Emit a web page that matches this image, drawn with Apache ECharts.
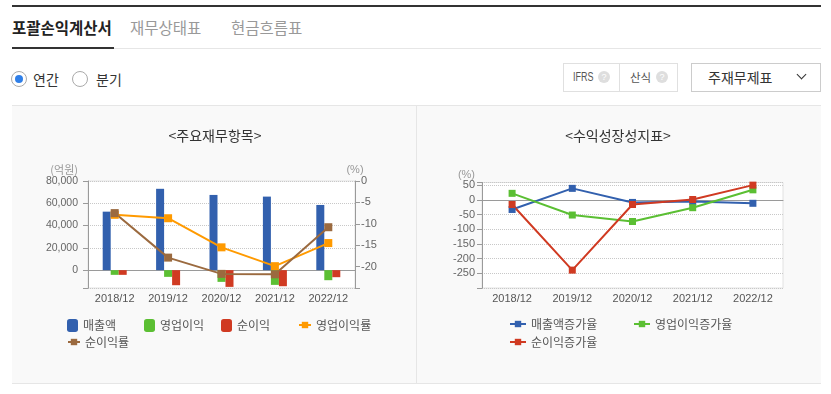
<!DOCTYPE html>
<html>
<head>
<meta charset="utf-8">
<script src="https://cdn.jsdelivr.net/npm/echarts@6/dist/echarts.min.js"></script>
<style>
html,body{margin:0;padding:0;background:#fff;}
body{width:831px;height:394px;position:relative;overflow:hidden;font-family:"Noto Sans CJK KR","Noto Sans",sans-serif;}
.abs{position:absolute;}
.tab{top:16px;height:22px;line-height:22px;font-size:15.5px;white-space:nowrap;}
.radio{width:14px;height:14px;border:1px solid #aaa;border-radius:50%;background:#fff;top:71px;}
.rtxt{top:69px;height:20px;line-height:20px;font-size:14px;color:#333;}
.q{width:12px;height:12px;border-radius:50%;background:#dedede;color:#fff;font-size:9px;line-height:12px;text-align:center;top:71px;font-family:"Liberation Sans",sans-serif;}
.btxt{top:68px;height:18px;line-height:18px;font-size:12px;color:#555;}
</style>
</head>
<body>
<div class="abs" style="left:12px;top:5px;width:809px;height:2px;background:#333"></div>
<div class="abs tab" style="left:12px;color:#222;font-weight:600">포괄손익계산서</div>
<div class="abs tab" style="left:130px;color:#999">재무상태표</div>
<div class="abs tab" style="left:231px;color:#999">현금흐름표</div>
<div class="abs" style="left:12px;top:48px;width:809px;height:1px;background:#e6e6e6"></div>
<div class="abs" style="left:12px;top:47px;width:102px;height:2px;background:#333"></div>

<div class="abs radio" style="left:11px;"></div>
<div class="abs" style="left:15px;top:75px;width:8px;height:8px;border-radius:50%;background:#2f7fe8"></div>
<div class="abs rtxt" style="left:33px;">연간</div>
<div class="abs radio" style="left:72px;"></div>
<div class="abs rtxt" style="left:96px;">분기</div>

<div class="abs" style="left:563px;top:63px;width:113px;height:27px;border:1px solid #e0e0e0;background:#fff"></div>
<div class="abs" style="left:619px;top:64px;width:1px;height:27px;background:#e0e0e0"></div>
<div class="abs btxt" style="left:573px;font-size:12.5px;font-family:'Liberation Sans',sans-serif;transform:scaleX(0.72);transform-origin:left center;">IFRS</div>
<div class="abs q" style="left:598px;">?</div>
<div class="abs btxt" style="left:630px;font-size:11.5px;">산식</div>
<div class="abs q" style="left:656px;">?</div>
<div class="abs" style="left:691px;top:63px;width:128px;height:27px;border:1px solid #ccc;background:#fff"></div>
<div class="abs" style="left:708px;top:66px;height:22px;line-height:22px;font-size:14px;color:#333">주재무제표</div>
<div class="abs" style="left:798px;top:71px;width:6px;height:6px;border-right:1px solid #333;border-bottom:1px solid #333;transform:rotate(45deg)"></div>

<div class="abs" style="left:12px;top:105px;width:809px;height:277px;background:#f9f9f9;border-top:1px solid #e6e6e6;border-bottom:1px solid #e6e6e6"></div>
<div class="abs" style="left:416px;top:106px;width:1px;height:277px;background:#e6e6e6"></div>

<div id="chart" class="abs" style="left:0;top:0;width:831px;height:394px;"></div>

<script>
const categories = ['2018/12', '2019/12', '2020/12', '2021/12', '2022/12'];
// 주요재무항목 (억원)
const revenue = [52500, 73000, 67500, 66000, 58500];
const operatingIncome = [-4200, -6000, -10500, -13200, -9000];
const netIncome = [-4200, -13500, -15000, -14400, -6300];
// (%)
const operatingMargin = [-7.9, -8.7, -15.5, -19.9, -14.5];
const netMargin = [-7.5, -17.9, -21.7, -21.8, -10.8];
// 수익성장성지표 (%)
const revenueGrowth = [-32, 40, -8, -5, -11];
const operatingGrowth = [23, -51, -73, -26, 35];
const netGrowth = [-15, -239, -15, 2, 51];

const leftTicks = [0, 20000, 40000, 60000, 80000];
const marginTicks = [0, -5, -10, -15, -20];
const growthTicks = [50, 0, -50, -100, -150, -200, -250];

const FONT = '"Noto Sans CJK KR","Noto Sans",sans-serif';
const NUMFONT = '"Liberation Sans Narrow","Liberation Sans",sans-serif';
const C = {
  blue: '#3260ae', green: '#5bbf33', red: '#d03a22', orange: '#ff9a00', brown: '#9b6a3f'
};
const axisLineGray = '#9a9a9a';

const chart = echarts.init(document.getElementById('chart'), null, {renderer: 'canvas'});

function xAxisOf(grid) {
  return {
    type: 'category', gridIndex: grid, data: categories,
    axisLine: {lineStyle: {color: axisLineGray}},
    axisTick: {alignWithLabel: true, length: 5, lineStyle: {color: axisLineGray}},
    axisLabel: {margin: 5, fontSize: 11, color: '#555', fontFamily: NUMFONT},
    splitLine: {show: false}
  };
}

const legendText = {fontSize: 12, color: '#555', fontFamily: FONT};
function lg(name, left, top, w, h) {
  return {data: [name], left: left, top: top, itemWidth: w, itemHeight: h, padding: 0, textStyle: legendText, selectedMode: false};
}

const option = {
  animation: false,
  backgroundColor: 'transparent',
  textStyle: {fontFamily: FONT},
  graphic: [
    {type: 'text', x: 215, y: 136, style: {text: '<주요재무항목>', fontSize: 14, fontFamily: FONT, fill: '#333', align: 'center', verticalAlign: 'middle', textAlign: 'center', textVerticalAlign: 'middle'}},
    {type: 'text', x: 618, y: 136, style: {text: '<수익성장성지표>', fontSize: 14, fontFamily: FONT, fill: '#333', align: 'center', verticalAlign: 'middle', textAlign: 'center', textVerticalAlign: 'middle'}}
  ],
  grid: [
    {left: 88, top: 181, width: 267, height: 107, show: true, backgroundColor: '#fff', borderColor: '#e2e2e2', borderWidth: 1},
    {left: 482, top: 182.5, width: 301, height: 105.5, show: true, backgroundColor: '#fff', borderColor: '#e2e2e2', borderWidth: 1}
  ],
  legend: [
    lg('매출액', 67, 319, 11, 13),
    lg('영업이익', 144, 319, 11, 13),
    lg('순이익', 221, 319, 11, 13),
    lg('영업이익률', 298, 319, 12, 8),
    lg('순이익률', 67, 336, 12, 8),
    lg('매출액증가율', 509, 318, 16, 8),
    lg('영업이익증가율', 633, 318, 16, 8),
    lg('순이익증가율', 509, 336, 16, 8)
  ],
  xAxis: [xAxisOf(0), xAxisOf(1)],
  yAxis: [
    {
      type: 'value', gridIndex: 0, position: 'left', min: -16000, max: 80000, splitNumber: 5,
      name: '(억원)', nameLocation: 'end', nameGap: 2,
      nameTextStyle: {color: '#999', fontSize: 11, fontFamily: FONT, align: 'right', padding: [0, 10, 0, 0]},
      axisLine: {show: true, lineStyle: {color: axisLineGray}},
      axisTick: {show: true, length: 5, lineStyle: {color: axisLineGray}},
      axisLabel: {margin: 10, fontSize: 10.5, color: '#666', fontFamily: NUMFONT,
        formatter: v => leftTicks.indexOf(v) >= 0 ? v.toLocaleString('en-US') : ''},
      splitLine: {show: true, lineStyle: {type: 'dotted', color: '#c8c8c8'}}
    },
    {
      type: 'value', gridIndex: 0, position: 'right', min: -25, max: 0, interval: 5,
      name: '(%)', nameLocation: 'end', nameGap: 2,
      nameTextStyle: {color: '#999', fontSize: 11, fontFamily: NUMFONT},
      axisLine: {show: true, lineStyle: {color: axisLineGray}},
      axisTick: {show: true, length: 5, lineStyle: {color: axisLineGray}},
      axisLabel: {margin: 6, fontSize: 11, color: '#666', fontFamily: NUMFONT,
        formatter: v => marginTicks.indexOf(v) >= 0 ? String(v) : ''},
      splitLine: {show: false}
    },
    {
      type: 'value', gridIndex: 1, position: 'left', min: -300, max: 60, interval: 50,
      name: '(%)', nameLocation: 'end', nameGap: 2,
      nameTextStyle: {color: '#999', fontSize: 11, fontFamily: NUMFONT, align: 'right', padding: [0, 7, 0, 0]},
      axisLine: {show: true, lineStyle: {color: axisLineGray}},
      axisTick: {show: true, length: 5, lineStyle: {color: axisLineGray}},
      axisLabel: {margin: 7, fontSize: 11, color: '#666', fontFamily: NUMFONT,
        formatter: v => growthTicks.indexOf(v) >= 0 ? String(v) : ''},
      splitLine: {show: true, lineStyle: {type: 'dotted', color: '#c8c8c8'}}
    }
  ],
  series: [
    {name: '매출액', type: 'bar', xAxisIndex: 0, yAxisIndex: 0, data: revenue, barWidth: 8, barGap: '0%', itemStyle: {color: C.blue}},
    {name: '영업이익', type: 'bar', xAxisIndex: 0, yAxisIndex: 0, data: operatingIncome, barWidth: 8, barGap: '0%', itemStyle: {color: C.green}},
    {name: '순이익', type: 'bar', xAxisIndex: 0, yAxisIndex: 0, data: netIncome, barWidth: 8, barGap: '0%', itemStyle: {color: C.red}},
    {name: '영업이익률', type: 'line', xAxisIndex: 0, yAxisIndex: 1, data: operatingMargin, symbol: 'rect', symbolSize: 8, showAllSymbol: true,
      lineStyle: {width: 2, color: C.orange}, itemStyle: {color: C.orange}},
    {name: '순이익률', type: 'line', xAxisIndex: 0, yAxisIndex: 1, data: netMargin, symbol: 'rect', symbolSize: 8,
      lineStyle: {width: 2, color: C.brown}, itemStyle: {color: C.brown}},
    {name: '매출액증가율', type: 'line', xAxisIndex: 1, yAxisIndex: 2, data: revenueGrowth, symbol: 'rect', symbolSize: 7,
      lineStyle: {width: 2, color: C.blue}, itemStyle: {color: C.blue}},
    {name: '영업이익증가율', type: 'line', xAxisIndex: 1, yAxisIndex: 2, data: operatingGrowth, symbol: 'rect', symbolSize: 7,
      lineStyle: {width: 2, color: C.green}, itemStyle: {color: C.green}},
    {name: '순이익증가율', type: 'line', xAxisIndex: 1, yAxisIndex: 2, data: netGrowth, symbol: 'rect', symbolSize: 7,
      lineStyle: {width: 2, color: C.red}, itemStyle: {color: C.red}}
  ]
};
chart.setOption(option);
</script>
</body>
</html>
